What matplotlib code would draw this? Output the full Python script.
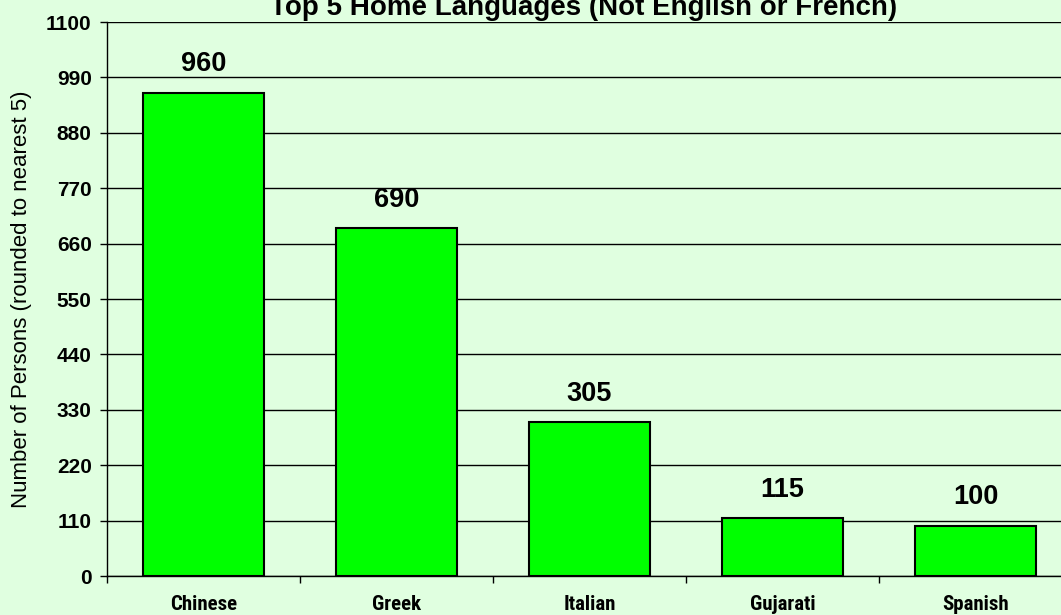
import matplotlib.pyplot as plt
from matplotlib import font_manager

languages = ["Chinese", "Greek", "Italian", "Gujarati", "Spanish"]
persons = [960, 690, 305, 115, 100]
y_ticks = list(range(0, 1101, 110))

bg = "#e0ffe0"

# narrow bold font for the category labels (original looks like Arial Narrow bold)
bold_faces = {f.name for f in font_manager.fontManager.ttflist
              if isinstance(f.weight, int) and f.weight >= 600 or f.weight == "bold"}
cat_family = "Liberation Sans"
for cand in ["Liberation Sans Narrow", "Arial Narrow", "Roboto Condensed", "Archivo Narrow",
             "PT Sans Narrow", "Asap Condensed", "Sofia Sans Condensed", "Saira SemiCondensed"]:
    if cand in bold_faces:
        cat_family = cand
        break

fig = plt.figure(figsize=(10.61, 6.15), dpi=100, facecolor=bg)
# plot area runs a little past the right edge, like the original
ax = fig.add_axes([107 / 1061, 39 / 615, 965 / 1061, 554 / 615])
ax.set_facecolor(bg)

x = list(range(len(languages)))
ax.bar(x, persons, width=0.63, color="#00ff00", edgecolor="black", linewidth=1.5, zorder=3)

for xi, v in zip(x, persons):
    ax.annotate(str(v), (xi, v), xytext=(0, 11), textcoords="offset points",
                ha="center", va="bottom", fontsize=19.5, fontweight="bold",
                family="Liberation Sans")

ax.set_xlim(-0.5, len(languages) - 0.5)
ax.set_ylim(0, 1100)
ax.set_yticks(y_ticks)
ax.set_yticklabels([str(t) for t in y_ticks], fontsize=15, fontweight="bold",
                   family="Liberation Sans")
ax.yaxis.grid(True, color="black", linewidth=1)
ax.set_axisbelow(True)

# category ticks sit between bars
ax.set_xticks([i - 0.5 for i in range(len(languages) + 1)])
ax.set_xticklabels([])
ax.set_xticks(x, minor=True)
ax.set_xticklabels(languages, minor=True, fontsize=15, fontweight="bold", family=cat_family)
ax.tick_params(axis="x", which="minor", length=0, pad=14)
ax.tick_params(axis="x", which="major", length=5, width=1)
ax.tick_params(axis="y", length=5, width=1, pad=6)

for s in ["top", "right"]:
    ax.spines[s].set_visible(False)
ax.spines["left"].set_linewidth(1)
ax.spines["bottom"].set_linewidth(1)

ax.set_ylabel("Number of Persons (rounded to nearest 5)", fontsize=16,
              family="Liberation Sans", labelpad=10)
fig.text(584 / 1061, 1 - 15 / 615, "Top 5 Home Languages (Not English or French)",
         ha="center", va="baseline", fontsize=20, fontweight="bold", family="Liberation Sans")

fig.savefig("out.png", dpi=100, facecolor=bg)
